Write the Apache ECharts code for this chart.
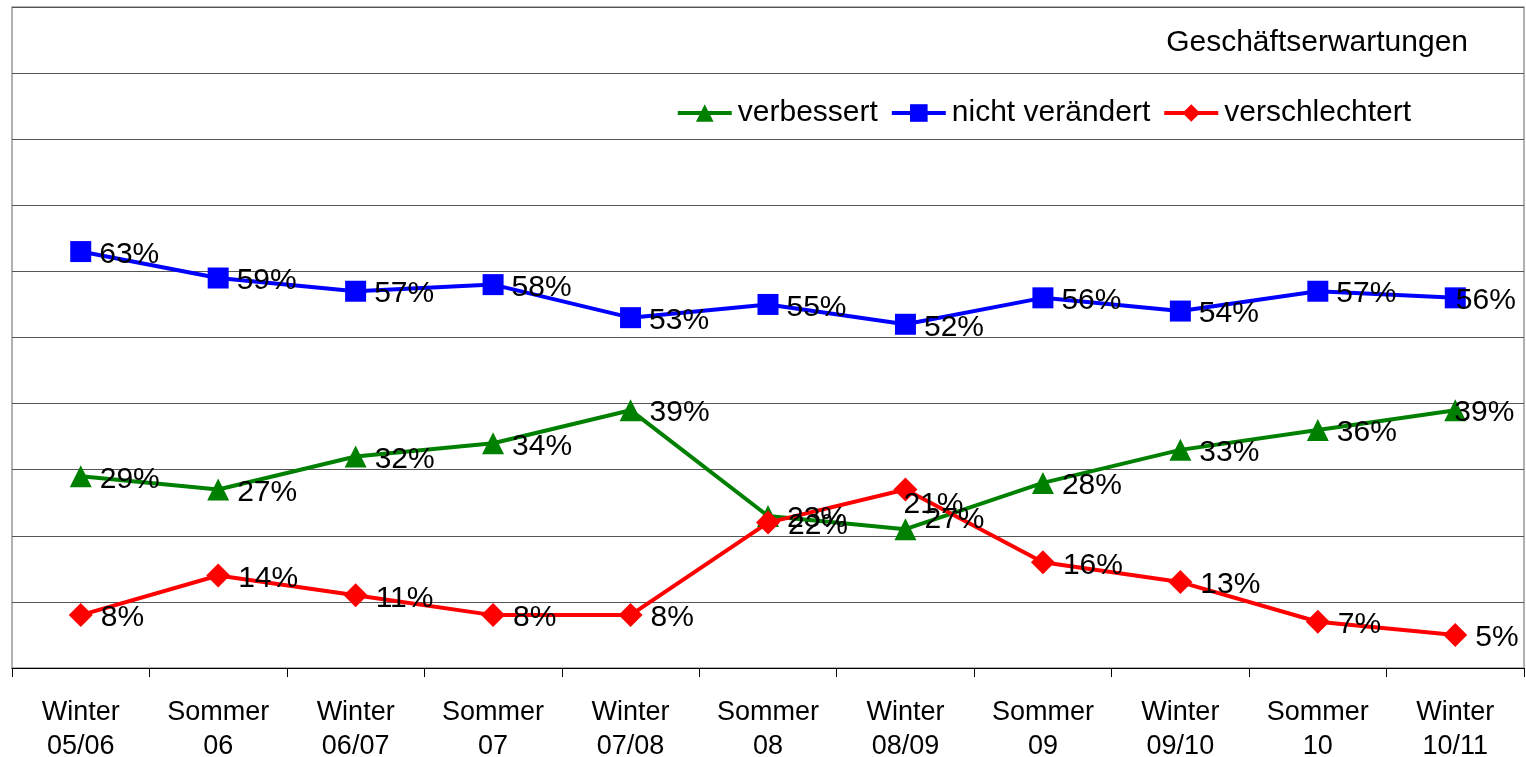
<!DOCTYPE html>
<html>
<head>
<meta charset="utf-8">
<script src="https://cdn.jsdelivr.net/npm/echarts@6/dist/echarts.min.js"></script>
<style>
    html, body { margin: 0; padding: 0; background: #fff; }
    #chart { width: 1526px; height: 757px; }
</style>
</head>
<body>
<div id="chart"></div>
<script>
var kategorien = ['Winter\n05/06', 'Sommer\n06', 'Winter\n06/07', 'Sommer\n07', 'Winter\n07/08', 'Sommer\n08',
                  'Winter\n08/09', 'Sommer\n09', 'Winter\n09/10', 'Sommer\n10', 'Winter\n10/11'];
var verbessert      = [29, 27, 32, 34, 39, 23, 21, 28, 33, 36, 39];
var nichtVeraendert = [63, 59, 57, 58, 53, 55, 52, 56, 54, 57, 56];
var verschlechtert  = [8, 14, 11, 8, 8, 22, 27, 16, 13, 7, 5];
// Beschriftungen wie im Original (bei Winter 08/09 vertauscht)
var verbessertText      = ['29%', '27%', '32%', '34%', '39%', '23%', '27%', '28%', '33%', '36%', '39%'];
var nichtVeraendertText = ['63%', '59%', '57%', '58%', '53%', '55%', '52%', '56%', '54%', '57%', '56%'];
var verschlechtertText  = ['8%', '14%', '11%', '8%', '8%', '22%', '21%', '16%', '13%', '7%', '5%'];

var chart = echarts.init(document.getElementById('chart'));

// Label-Verschiebungen einzelner Punkte (wie im Excel-Original)
function punkte(werte, verschiebung) {
    return werte.map(function (v, i) {
        if (verschiebung[i]) {
            return { value: v, label: { offset: verschiebung[i] } };
        }
        return v;
    });
}

function reihe(name, werte, texte, farbe, symbol, groesse, verschiebung) {
    return {
        name: name,
        type: 'line',
        data: punkte(werte, verschiebung),
        symbol: symbol,
        symbolSize: groesse,
        showAllSymbol: true,
        itemStyle: { color: farbe },
        lineStyle: { color: farbe, width: 4 },
        label: {
            show: true,
            position: 'right',
            distance: 8,
            offset: [0, 3],
            color: '#000',
            fontFamily: 'Liberation Sans',
            fontSize: 30,
            formatter: function (p) { return texte[p.dataIndex]; }
        },
        emphasis: { disabled: true },
        animation: false
    };
}

var option = {
    backgroundColor: '#fff',
    title: {
        text: 'Geschäftserwartungen',
        right: 53,
        top: 23,
        textStyle: {
            fontFamily: 'Liberation Sans',
            fontWeight: 'normal',
            fontSize: 30,
            color: '#000'
        }
    },
    legend: {
        data: ['verbessert', 'nicht verändert', 'verschlechtert'],
        right: 110,
        top: 93,
        itemWidth: 54,
        itemHeight: 22,
        itemGap: 12,
        lineStyle: { width: 4 },
        textStyle: {
            fontFamily: 'Liberation Sans',
            fontSize: 30,
            color: '#000',
            padding: [0, 0, 0, 1]
        }
    },
    grid: {
        left: 12,
        right: 2,
        top: 7,
        bottom: 89,
        outerBoundsMode: 'none',
        show: true,
        borderColor: '#999',
        borderWidth: 1.5
    },
    xAxis: {
        type: 'category',
        data: kategorien,
        boundaryGap: true,
        axisLine: { lineStyle: { color: '#000', width: 1 } },
        axisTick: { show: true, length: 9, interval: 0, lineStyle: { color: '#000' } },
        axisLabel: {
            interval: 0,
            margin: 28,
            color: '#000',
            fontFamily: 'Liberation Sans',
            fontSize: 27,
            lineHeight: 34
        }
    },
    yAxis: {
        type: 'value',
        min: 0,
        max: 100,
        interval: 10,
        axisLine: { show: false },
        axisTick: { show: false },
        axisLabel: { show: false },
        splitLine: { lineStyle: { color: '#555', width: 1 } }
    },
    series: [
        reihe('verbessert', verbessert, verbessertText, '#008000', 'triangle', 22,
              { 6: [0, -9], 10: [-20, 3] }),
        reihe('nicht verändert', nichtVeraendert, nichtVeraendertText, '#0000ff', 'rect', 21,
              { 10: [-18, 3] }),
        reihe('verschlechtert', verschlechtert, verschlechtertText, '#ff0000', 'diamond', 24,
              { 6: [-22, 15] })
    ]
};

chart.setOption(option);
</script>
</body>
</html>
